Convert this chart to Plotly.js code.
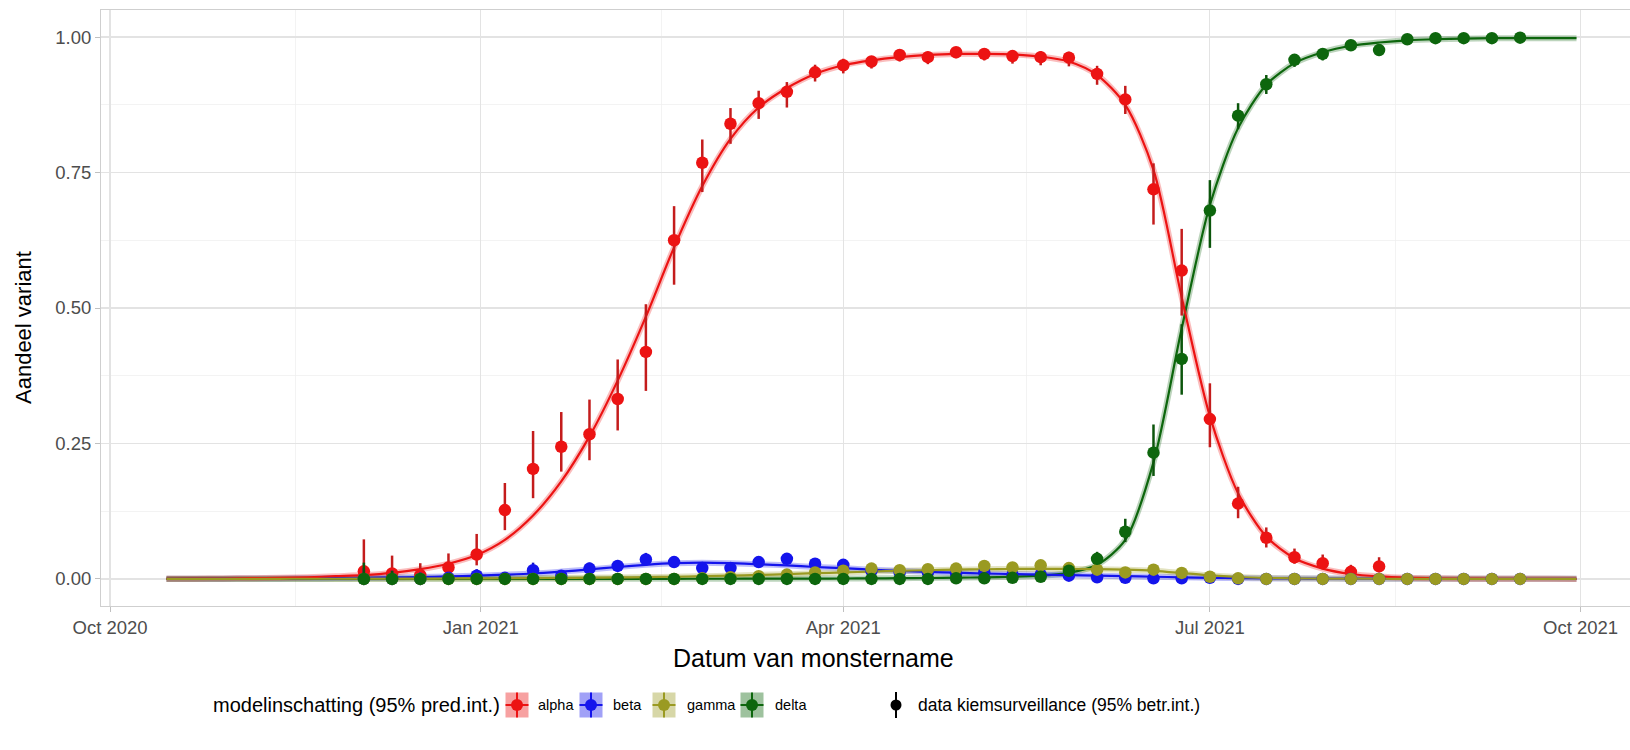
<!DOCTYPE html>
<html><head><meta charset="utf-8">
<script src="https://cdn.plot.ly/plotly-3.0.1.min.js"></script>
<style>html,body{margin:0;padding:0;overflow:hidden;background:#fff;width:1630px;height:750px}#chart{width:1647px;height:750px}</style>
</head><body><div id="chart"></div><script>
// ---- observation dates (weekly) ----
const obsDates = ["2020-12-03","2020-12-10","2020-12-17","2020-12-24","2020-12-31","2021-01-07","2021-01-14","2021-01-21","2021-01-28","2021-02-04","2021-02-11","2021-02-18","2021-02-25","2021-03-04","2021-03-11","2021-03-18","2021-03-25","2021-04-01","2021-04-08","2021-04-15","2021-04-22","2021-04-29","2021-05-06","2021-05-13","2021-05-20","2021-05-27","2021-06-03","2021-06-10","2021-06-17","2021-06-24","2021-07-01","2021-07-08","2021-07-15","2021-07-22","2021-07-29","2021-08-05","2021-08-12","2021-08-19","2021-08-26","2021-09-02","2021-09-09","2021-09-16"];

// alpha observations (through 2021-08-12)
const alphaObs = [0.014,0.010,0.007,0.021,0.045,0.127,0.203,0.244,0.267,0.332,0.419,0.625,0.768,0.840,0.878,0.899,0.935,0.948,0.955,0.967,0.963,0.972,0.969,0.965,0.963,0.962,0.932,0.885,0.719,0.569,0.295,0.139,0.076,0.040,0.029,0.013,0.023];
const alphaLo  = [0.002,0.002,0.002,0.009,0.025,0.090,0.149,0.198,0.219,0.274,0.347,0.543,0.714,0.803,0.849,0.870,0.918,0.933,0.942,0.955,0.950,0.961,0.957,0.951,0.948,0.946,0.912,0.858,0.654,0.486,0.243,0.112,0.058,0.028,0.018,0.006,0.013];
const alphaHi  = [0.073,0.043,0.029,0.047,0.083,0.177,0.273,0.308,0.331,0.405,0.507,0.688,0.811,0.869,0.901,0.917,0.949,0.960,0.965,0.976,0.973,0.980,0.978,0.975,0.974,0.973,0.947,0.910,0.767,0.646,0.361,0.170,0.095,0.056,0.045,0.026,0.040];

const betaObs = [0.000,0.000,0.000,0.002,0.006,0.002,0.016,0.006,0.019,0.024,0.036,0.031,0.020,0.020,0.031,0.037,0.028,0.026,0.015,0.012,0.012,0.010,0.012,0.008,0.008,0.006,0.003,0.002,0.001,0.001,0.002,0,0,0,0,0,0,0,0,0,0,0];
const betaLo  = [0,0,0,0,0.002,0,0.008,0.002,0.011,0.015,0.026,0.022,0.013,0.013,0.023,0.029,0.021,0.019,0.010,0.007,0.007,0.006,0.007,0.004,0.004,0.003,0.001,0,0,0,0,0,0,0,0,0,0,0,0,0,0,0];
const betaHi  = [0.020,0.015,0.012,0.010,0.018,0.012,0.030,0.015,0.030,0.035,0.048,0.042,0.029,0.029,0.041,0.047,0.036,0.034,0.022,0.018,0.018,0.016,0.018,0.013,0.013,0.011,0.007,0.006,0.005,0.005,0.006,0.004,0.004,0.004,0.004,0.004,0.004,0.003,0.003,0.003,0.003,0.003];

const gammaObs = [0,0,0,0,0,0,0,0,0,0,0,0,0.001,0.003,0.005,0.008,0.012,0.015,0.019,0.016,0.018,0.019,0.024,0.021,0.025,0.020,0.017,0.012,0.017,0.011,0.004,0.001,0,0,0,0,0,0,0,0,0,0];
const gammaLo  = [0,0,0,0,0,0,0,0,0,0,0,0,0,0.001,0.002,0.004,0.007,0.010,0.013,0.011,0.012,0.013,0.017,0.015,0.018,0.014,0.011,0.007,0.010,0.006,0.001,0,0,0,0,0,0,0,0,0,0,0];
const gammaHi  = [0.004,0.004,0.004,0.004,0.004,0.004,0.004,0.004,0.004,0.004,0.004,0.004,0.005,0.008,0.010,0.014,0.019,0.022,0.027,0.023,0.025,0.027,0.033,0.029,0.034,0.028,0.025,0.019,0.026,0.019,0.010,0.006,0.004,0.004,0.004,0.004,0.004,0.003,0.003,0.003,0.003,0.003];

const deltaObs = [0,0,0,0,0,0,0,0,0,0,0,0,0,0,0,0,0,0,0,0,0,0.001,0.001,0.002,0.004,0.015,0.037,0.087,0.233,0.406,0.680,0.855,0.913,0.958,0.969,0.985,0.976,0.996,0.998,0.998,0.998,0.999];
const deltaLo  = [0,0,0,0,0,0,0,0,0,0,0,0,0,0,0,0,0,0,0,0,0,0,0,0,0.001,0.008,0.027,0.068,0.190,0.340,0.611,0.830,0.895,0.945,0.957,0.976,0.965,0.990,0.993,0.993,0.993,0.995];
const deltaHi  = [0.030,0.015,0.010,0.008,0.008,0.006,0.006,0.006,0.006,0.006,0.006,0.006,0.006,0.006,0.006,0.006,0.006,0.006,0.006,0.006,0.006,0.007,0.007,0.008,0.011,0.025,0.050,0.111,0.285,0.470,0.736,0.878,0.930,0.968,0.978,0.992,0.985,0.999,1.000,1.000,1.000,1.000];

// ---- model estimate (weekly) ----
const fitDates = ["2020-10-15","2020-10-22","2020-10-29","2020-11-05","2020-11-12","2020-11-19","2020-11-26","2020-12-03","2020-12-10","2020-12-17","2020-12-24","2020-12-31","2021-01-07","2021-01-14","2021-01-21","2021-01-28","2021-02-04","2021-02-11","2021-02-18","2021-02-25","2021-03-04","2021-03-11","2021-03-18","2021-03-25","2021-04-01","2021-04-08","2021-04-15","2021-04-22","2021-04-29","2021-05-06","2021-05-13","2021-05-20","2021-05-27","2021-06-03","2021-06-10","2021-06-17","2021-06-24","2021-07-01","2021-07-08","2021-07-15","2021-07-22","2021-07-29","2021-08-05","2021-08-12","2021-08-19","2021-08-26","2021-09-02","2021-09-09","2021-09-16","2021-09-23","2021-09-30"];
const alphaFit = [0.0003,0.0005,0.0008,0.0013,0.002,0.003,0.005,0.007,0.011,0.018,0.028,0.044,0.072,0.117,0.180,0.263,0.366,0.484,0.612,0.725,0.812,0.870,0.906,0.932,0.948,0.957,0.963,0.967,0.969,0.969,0.968,0.964,0.955,0.930,0.875,0.755,0.520,0.300,0.158,0.078,0.038,0.019,0.009,0.0045,0.0022,0.0011,0.0005,0.0003,0.0001,0.0001,0.0];
const betaFit  = [0.0003,0.0004,0.0005,0.0007,0.0009,0.0012,0.0016,0.002,0.0027,0.0035,0.0046,0.006,0.0078,0.010,0.0135,0.0175,0.022,0.026,0.029,0.030,0.029,0.027,0.025,0.022,0.020,0.017,0.015,0.013,0.0115,0.010,0.009,0.008,0.007,0.006,0.005,0.004,0.003,0.002,0.0015,0.001,0.0008,0.0006,0.0005,0.0004,0.0003,0.0003,0.0002,0.0002,0.0002,0.0001,0.0001];
const gammaFit = [0.0001,0.0001,0.0001,0.0002,0.0002,0.0003,0.0003,0.0004,0.0005,0.0006,0.0008,0.001,0.0012,0.0015,0.0018,0.0022,0.0027,0.0033,0.004,0.005,0.006,0.0073,0.0088,0.0105,0.012,0.0135,0.015,0.016,0.017,0.0178,0.0183,0.0185,0.0185,0.018,0.017,0.015,0.011,0.0065,0.0035,0.0018,0.001,0.0006,0.0004,0.0003,0.0002,0.0002,0.0001,0.0001,0.0001,0.0001,0.0001];
const deltaFit = [0,0,0,0,0,0,0,0.0001,0.0001,0.0001,0.0001,0.0001,0.0001,0.0001,0.0001,0.0001,0.0002,0.0002,0.0002,0.0003,0.0003,0.0004,0.0005,0.0006,0.0008,0.001,0.0013,0.0017,0.0023,0.003,0.004,0.006,0.011,0.026,0.072,0.215,0.462,0.690,0.832,0.912,0.952,0.972,0.984,0.990,0.994,0.996,0.997,0.998,0.998,0.998,0.998];

const variants = ["alpha","beta","gamma","delta"];
const colors = {alpha:"#ec1313", beta:"#1414ec", gamma:"#9a9a22", delta:"#0d660d"};
const barColors = {alpha:"#c41c1c", beta:"#1414c4", gamma:"#85851e", delta:"#0b550b"};
const obs = {alpha:[alphaObs,alphaLo,alphaHi], beta:[betaObs,betaLo,betaHi], gamma:[gammaObs,gammaLo,gammaHi], delta:[deltaObs,deltaLo,deltaHi]};
const fit = {alpha:alphaFit, beta:betaFit, gamma:gammaFit, delta:deltaFit};

const xTicks = ["2020-10-01","2021-01-01","2021-04-01","2021-07-01","2021-10-01"];
const xTickText = ["Oct 2020","Jan 2021","Apr 2021","Jul 2021","Oct 2021"];
const xMinor = ["2020-11-16","2021-02-15","2021-05-16 12:00","2021-08-16"];
const yTicks = [0,0.25,0.5,0.75,1];
const yTickText = ["0.00","0.25","0.50","0.75","1.00"];
const yMinor = [0.125,0.375,0.625,0.875];

const legendTitle = "modelinschatting (95% pred.int.)";
const dataLegend = "data kiemsurveillance (95% betr.int.)";
const xTitle = "Datum van monstername";
const yTitle = "Aandeel variant";

function rgba(hex,a){const r=parseInt(hex.slice(1,3),16),g=parseInt(hex.slice(3,5),16),b=parseInt(hex.slice(5,7),16);return `rgba(${r},${g},${b},${a})`;}

const traces = [];
const lineOrder = ["delta","beta","alpha","gamma"];
lineOrder.forEach(v=>{
  traces.push({type:"scatter",mode:"lines",x:fitDates,y:fit[v],line:{color:rgba(colors[v],0.28),width:6,shape:"spline",smoothing:0.8},hoverinfo:"skip",showlegend:false});
});
lineOrder.forEach(v=>{
  traces.push({type:"scatter",mode:"lines",x:fitDates,y:fit[v],line:{color:colors[v],width:2.2,shape:"spline",smoothing:0.8},showlegend:false});
});
variants.forEach(v=>{
  const [y,lo,hi]=obs[v];
  traces.push({type:"scatter",mode:"markers",x:obsDates.slice(0,y.length),y:y,
    marker:{color:colors[v],size:12.5},
    error_y:{type:"data",symmetric:false,array:y.map((d,i)=>Math.max(0,hi[i]-d)),arrayminus:y.map((d,i)=>Math.max(0,d-lo[i])),width:0,thickness:2.5,color:barColors[v]},
    showlegend:false});
});

const L=101,T=10,PW=1546,PH=596;
const px=x=>(x-L)/PW, py=y=>(T+PH-y)/PH;
const FONT="Liberation Sans, Arial, Helvetica, sans-serif";

const shapes=[], annotations=[];
annotations.push({xref:"paper",yref:"paper",x:px(813),y:py(658),text:xTitle,showarrow:false,xanchor:"center",yanchor:"middle",font:{family:FONT,size:25,color:"#000"}});
annotations.push({xref:"paper",yref:"paper",x:px(23),y:py(328),text:yTitle,showarrow:false,textangle:-90,xanchor:"center",yanchor:"middle",font:{family:FONT,size:22,color:"#000"}});

// manual legend
const LY=705;
annotations.push({xref:"paper",yref:"paper",x:px(211),y:py(LY),text:legendTitle,showarrow:false,xanchor:"left",yanchor:"middle",font:{family:FONT,size:20,color:"#000"}});
const swCx=[517,591,664,752], labX=[536,611,685,773];
variants.forEach((v,i)=>{
  const cx=swCx[i];
  shapes.push({type:"rect",xref:"paper",yref:"paper",x0:px(cx-11.5),x1:px(cx+11.5),y0:py(LY+12.5),y1:py(LY-12.5),fillcolor:rgba(colors[v],0.4),line:{width:0}});
  shapes.push({type:"line",xref:"paper",yref:"paper",x0:px(cx-11.5),x1:px(cx+11.5),y0:py(LY),y1:py(LY),line:{color:colors[v],width:2}});
  shapes.push({type:"line",xref:"paper",yref:"paper",x0:px(cx),x1:px(cx),y0:py(LY+12.5),y1:py(LY-12.5),line:{color:colors[v],width:2}});
  shapes.push({type:"circle",xref:"paper",yref:"paper",x0:px(cx-6),x1:px(cx+6),y0:py(LY+6),y1:py(LY-6),fillcolor:colors[v],line:{width:0}});
  annotations.push({xref:"paper",yref:"paper",x:px(labX[i]),y:py(LY),text:v,showarrow:false,xanchor:"left",yanchor:"middle",font:{family:FONT,size:14.5,color:"#000"}});
});
shapes.push({type:"line",xref:"paper",yref:"paper",x0:px(896),x1:px(896),y0:py(LY+13),y1:py(LY-13),line:{color:"#000",width:2}});
shapes.push({type:"circle",xref:"paper",yref:"paper",x0:px(890.5),x1:px(901.5),y0:py(LY+5.5),y1:py(LY-5.5),fillcolor:"#000",line:{width:0}});
annotations.push({xref:"paper",yref:"paper",x:px(916),y:py(LY),text:dataLegend,showarrow:false,xanchor:"left",yanchor:"middle",font:{family:FONT,size:17.5,color:"#000"}});

const layout={
  width:1647,height:750,
  margin:{l:L,r:0,t:T,b:750-T-PH,pad:0},
  paper_bgcolor:"#fff",plot_bgcolor:"#fff",
  showlegend:false,
  font:{family:FONT,color:"#4d4d4d"},
  xaxis:{type:"date",range:["2020-09-28 18:00","2021-10-17 12:00"],tickvals:xTicks,ticktext:xTickText,
    showgrid:true,gridcolor:"#e3e3e3",gridwidth:1.2,zeroline:false,
    minor:{tickvals:xMinor,showgrid:true,gridcolor:"#eeeeee",gridwidth:0.7,ticks:""},
    ticks:"outside",ticklen:5,tickcolor:"#c0c0c0",tickwidth:1,
    showline:true,mirror:true,linecolor:"#cfcfcf",linewidth:1,
    tickfont:{family:FONT,size:18.5,color:"#4d4d4d"}},
  yaxis:{range:[-0.05,1.05],tickvals:yTicks,ticktext:yTickText,
    showgrid:true,gridcolor:"#e3e3e3",gridwidth:1.2,zeroline:false,
    minor:{tickvals:yMinor,showgrid:true,gridcolor:"#eeeeee",gridwidth:0.7,ticks:""},
    ticks:"outside",ticklen:5,tickcolor:"#c0c0c0",tickwidth:1,
    showline:true,mirror:true,linecolor:"#cfcfcf",linewidth:1,
    tickfont:{family:FONT,size:18.5,color:"#4d4d4d"}},
  shapes:shapes,annotations:annotations
};
Plotly.newPlot("chart",traces,layout,{staticPlot:true,displayModeBar:false});
</script></body></html>
